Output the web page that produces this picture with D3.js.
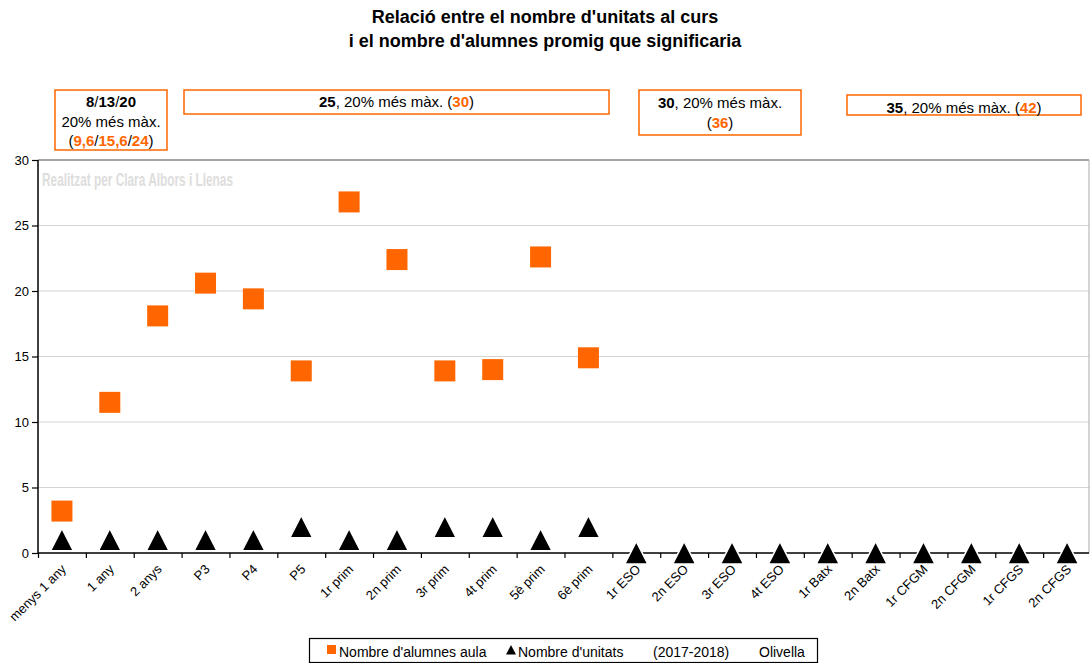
<!DOCTYPE html>
<html><head><meta charset="utf-8">
<script src="https://cdn.jsdelivr.net/npm/d3@7"></script>
<style>
body{margin:0;background:#fff;}
svg{font-family:"Liberation Sans",Arial,Helvetica,sans-serif;}
</style></head>
<body><svg id="c" width="1091" height="663"></svg>
<script>
const categories = ["menys 1 any","1 any","2 anys","P3","P4","P5","1r prim","2n prim","3r prim","4t prim","5è prim","6è prim","1r ESO","2n ESO","3r ESO","4t ESO","1r Batx","2n Batx","1r CFGM","2n CFGM","1r CFGS","2n CFGS"];
const alumnes = [3.2,11.5,18.1,20.6,19.4,13.9,26.8,22.4,13.9,14.0,22.6,14.9,null,null,null,null,null,null,null,null,null,null];
const unitats = [1,1,1,1,1,2,1,1,2,2,1,2,0,0,0,0,0,0,0,0,0,0];
const yTicks = [0,5,10,15,20,25,30];
const titleLines = ["Relació entre el nombre d'unitats al curs","i el nombre d'alumnes promig que significaria"];
const legendItems = ["Nombre d'alumnes aula","Nombre d'unitats","(2017-2018)","Olivella"];

const ORANGE = "#ff6600";
const svg = d3.select("#c");
const L = 38, R = 1091, T = 160, B = 553;

const x = d3.scaleBand().domain(categories).range([L, R]);
const y = d3.scaleLinear().domain([0, 30]).range([B, T]);

// title
svg.append("text").attr("text-anchor", "middle")
  .attr("font-weight", "bold").attr("font-size", 18)
  .selectAll("tspan").data(titleLines).join("tspan")
  .attr("x", 545).attr("y", (d, i) => 23 + i * 24).text(d => d);

// annotation boxes
function box(x0, y0, w, h, lines) {
  svg.append("rect").attr("x", x0).attr("y", y0).attr("width", w).attr("height", h)
    .attr("fill", "#fff").attr("stroke", ORANGE).attr("stroke-width", 1.5);
  lines.forEach(ln => {
    const t = svg.append("text").attr("x", x0 + w / 2).attr("y", ln.y)
      .attr("text-anchor", "middle").attr("font-size", 15);
    ln.parts.forEach(p => {
      t.append("tspan").text(p[0])
        .attr("font-weight", p[1] ? "bold" : null)
        .attr("fill", p[2] ? ORANGE : "#000");
    });
  });
}
box(55, 90, 112, 60, [
  {y: 107, parts: [["8", 1], ["/"], ["13", 1], ["/"], ["20", 1]]},
  {y: 127, parts: [["20% més màx."]]},
  {y: 146, parts: [["("], ["9,6", 1, 1], ["/"], ["15,6", 1, 1], ["/"], ["24", 1, 1], [")"]]}
]);
box(184, 90, 425, 24, [
  {y: 107, parts: [["25", 1], [", 20% més màx. ("], ["30", 1, 1], [")"]]}
]);
box(639, 90, 162, 45, [
  {y: 108, parts: [["30", 1], [", 20% més màx."]]},
  {y: 128, parts: [["("], ["36", 1, 1], [")"]]}
]);
box(847, 95, 234, 20, [
  {y: 113, parts: [["35", 1], [", 20% més màx. ("], ["42", 1, 1], [")"]]}
]);

// gridlines
svg.append("g").selectAll("line").data(yTicks.filter(v => v > 0 && v < 30)).join("line")
  .attr("x1", L).attr("x2", R - 2).attr("y1", d => y(d)).attr("y2", d => y(d))
  .attr("stroke", "#d4d4d4").attr("stroke-width", 1);
// frame top and right
svg.append("line").attr("x1", L).attr("x2", R - 2).attr("y1", y(30)).attr("y2", y(30))
  .attr("stroke", "#888").attr("stroke-width", 1.3);
svg.append("line").attr("x1", R - 2).attr("x2", R - 2).attr("y1", y(30)).attr("y2", B)
  .attr("stroke", "#aaa").attr("stroke-width", 1);

// watermark
svg.append("text").attr("x", 42).attr("y", 186).attr("font-size", 18)
  .attr("font-weight", "bold").attr("fill", "#dddddd")
  .attr("textLength", 191).attr("lengthAdjust", "spacingAndGlyphs")
  .text("Realitzat per Clara Albors i Llenas");

// y axis
const yAx = svg.append("g").attr("transform", `translate(${L},0)`)
  .call(d3.axisLeft(y).tickValues(yTicks).tickSize(6).tickPadding(3));
yAx.select(".domain").attr("stroke", "#000").attr("stroke-width", 1.5).attr("d", `M0,${T}V${B}`);
yAx.selectAll(".tick line").attr("stroke", "#000").attr("stroke-width", 1.2);
yAx.selectAll("text").attr("font-size", 13).attr("font-family", "Liberation Sans, Arial, sans-serif").attr("fill", "#000");

// x axis line + boundary ticks
const xi = d3.scaleLinear().domain([0, categories.length]).range([L, R]);
const xAx = svg.append("g").attr("transform", `translate(0,${B})`)
  .call(d3.axisBottom(xi).tickValues(d3.range(0, categories.length)).tickSize(5).tickFormat(""));
xAx.select(".domain").attr("stroke", "#000").attr("stroke-width", 1.5).attr("d", `M${L},0H${R - 2}`);
xAx.selectAll(".tick line").attr("stroke", "#000").attr("stroke-width", 1.2);

// x labels
svg.append("g").selectAll("text").data(categories).join("text")
  .attr("transform", d => `translate(${x(d) + x.bandwidth() / 2 + 5},${B + 17}) rotate(-45)`)
  .attr("text-anchor", "end").attr("font-size", 13).text(d => d);

// squares
const S = 21;
svg.append("g").selectAll("rect").data(categories.map((c, i) => [c, alumnes[i]]).filter(d => d[1] != null)).join("rect")
  .attr("x", d => x(d[0]) + x.bandwidth() / 2 - S / 2)
  .attr("y", d => y(d[1]) - S / 2)
  .attr("width", S).attr("height", S).attr("fill", ORANGE);

// triangles
const triPath = "M0,-11.5L11.5,11L-11.5,11Z";
svg.append("g").selectAll("path").data(categories.map((c, i) => [c, unitats[i]])).join("path")
  .attr("d", triPath)
  .attr("transform", d => `translate(${x(d[0]) + x.bandwidth() / 2},${y(d[1])})`)
  .attr("fill", "#000").attr("stroke", "#fff").attr("stroke-width", 1.6);

// legend
const lg = svg.append("g");
lg.append("rect").attr("x", 309.5).attr("y", 638.5).attr("width", 508).attr("height", 24)
  .attr("fill", "#fff").attr("stroke", "#000").attr("stroke-width", 1.2);
lg.append("rect").attr("x", 327).attr("y", 645).attr("width", 9).attr("height", 9).attr("fill", ORANGE);
lg.append("path").attr("d", "M0,-5L5,4.5L-5,4.5Z").attr("transform", "translate(511,650)").attr("fill", "#000");
const lx = [339, 518, 653, 759];
legendItems.forEach((t, i) => {
  lg.append("text").attr("x", lx[i]).attr("y", 657).attr("font-size", 14).text(t);
});
</script></body></html>
